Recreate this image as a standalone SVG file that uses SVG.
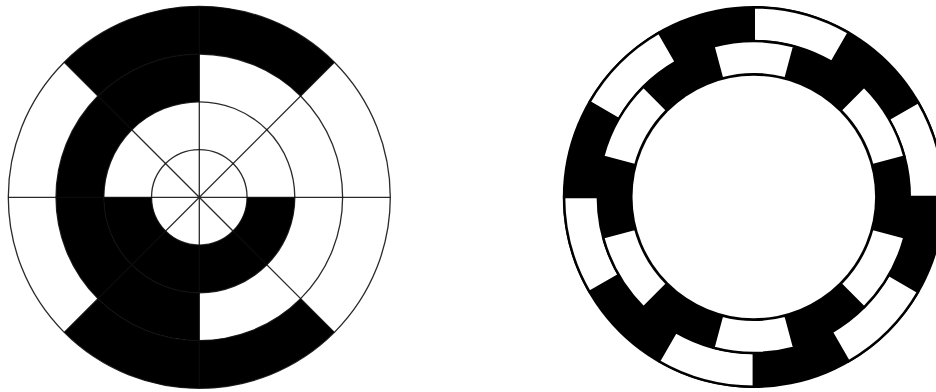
<svg xmlns="http://www.w3.org/2000/svg" width="936" height="392" viewBox="0 0 936 392">
<style>
.k{fill:#000}
.grid{fill:none;stroke:#0d0d0d;stroke-width:1.3;stroke-opacity:.88}
.win{fill:#fff;stroke:#000;stroke-width:2.4;stroke-linejoin:miter}
</style>
<defs>
<path id="outerWin" class="win" d="M0 -189.7A189.7 189.7 0 0 1 94.85 -164.29L78 -135.1A156 156 0 0 0 0 -156Z"/>
<path id="innerWin" class="win" d="M-40.35 -150.59A155.9 155.9 0 0 1 40.35 -150.59L31.78 -118.62A122.8 122.8 0 0 0 -31.78 -118.62Z"/>
</defs>
<rect width="936" height="392" fill="#fff"/>
<g id="left-disk" transform="translate(199.3 197.3)">
<path class="k" d="M-135.06 -135.06A191 191 0 0 1 135.06 -135.06L101.33 -101.33A143.3 143.3 0 0 0 -101.33 -101.33Z"/>
<path class="k" d="M135.06 135.06A191 191 0 0 1 -135.06 135.06L-101.33 101.33A143.3 143.3 0 0 0 101.33 101.33Z"/>
<path class="k" d="M0 -143.3A143.3 143.3 0 0 0 0 143.3L0 95.5A95.5 95.5 0 0 1 0 -95.5Z"/>
<path class="k" d="M47.75 0A47.75 47.75 0 0 1 -47.75 0L-95.5 0A95.5 95.5 0 0 0 95.5 0Z"/>
<g class="grid">
<circle r="191"/><circle r="143.3"/><circle r="95.5"/><circle r="47.75"/>
<path d="M-191 0H191M0 -191V191M-135.06 -135.06L135.06 135.06M-135.06 135.06L135.06 -135.06"/>
</g>
</g>
<g id="right-disk" transform="translate(753.8 197)">
<circle class="k" r="191"/>
<use href="#outerWin"/>
<use href="#outerWin" transform="rotate(60)"/>
<use href="#outerWin" transform="rotate(120)"/>
<use href="#outerWin" transform="rotate(180)"/>
<use href="#outerWin" transform="rotate(240)"/>
<use href="#outerWin" transform="rotate(300)"/>
<use href="#innerWin"/>
<use href="#innerWin" transform="rotate(60)"/>
<use href="#innerWin" transform="rotate(120)"/>
<use href="#innerWin" transform="rotate(180)"/>
<use href="#innerWin" transform="rotate(240)"/>
<use href="#innerWin" transform="rotate(300)"/>
<circle r="121.3" fill="#fff"/>
</g>
</svg>
